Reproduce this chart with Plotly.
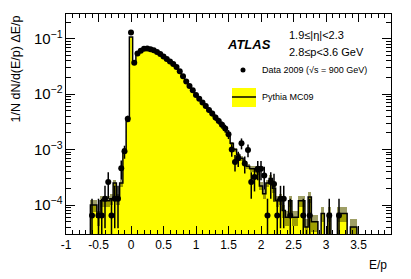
import numpy as np
import plotly.graph_objects as go

# ---- data ----
bin_width = 0.05
bin_centers = [round(-0.6 + 0.05 * i, 2) for i in range(83)]  # -0.60 ... 3.50

mc_values = [
    1.0e-4, 1.0e-4, 6e-5, 1.2e-4, 1.2e-4, 1.2e-4, 1.3e-4, 2.5e-4, 1.3e-4, 2.5e-4,  # -0.60..-0.15
    1.0e-3, 3.3e-3, 0.108,                                                          # -0.10..0.00
    0.036, 0.053, 0.060, 0.065, 0.066, 0.064, 0.061, 0.057, 0.052, 0.047,           # 0.05..0.50
    0.042, 0.038, 0.034, 0.030, 0.025, 0.021, 0.017, 0.0138, 0.0116, 0.0095,        # 0.55..1.00
    0.0082, 0.0070, 0.0060, 0.0051, 0.0044, 0.0037, 0.0032, 0.0027, 0.0023, 0.0019, # 1.05..1.50
    1.3e-3, 1.0e-3, 8e-4, 7e-4, 6e-4, 5e-4, 4.5e-4, 4.5e-4, 4e-4, 2.2e-4,          # 1.55..2.00
    1.6e-4, 2.5e-4, 3e-4, 2e-4, 1.2e-4, 1.3e-4, 8e-5, 6e-5, 1.2e-4, 6e-5,          # 2.05..2.50
    6e-5, 1.2e-4, 1.2e-4, 4e-5, 1.4e-4, 5e-5, 5e-5, 0, 7e-5, 0,                    # 2.55..3.00
    7e-5, 0, 0, 7e-5, 7e-5, 7e-5, 0, 4e-5, 4e-5, 0,                                # 3.05..3.50
]

data_values = [
    6.5e-5, None, 6.5e-5, 6.5e-5, 1.3e-4, 2.6e-4, 6.5e-5, 1.3e-4, 1.3e-4, 4.6e-4,  # -0.60..-0.15
    9.3e-4, 3.6e-3, 0.13,                                                           # -0.10..0.00
    0.037, 0.054, 0.061, 0.066, 0.067, 0.065, 0.062, 0.058, 0.053, 0.048,           # 0.05..0.50
    0.043, 0.039, 0.035, 0.031, 0.026, 0.021, 0.017, 0.0140, 0.0118, 0.0097,        # 0.55..1.00
    0.0083, 0.0071, 0.0061, 0.0052, 0.0045, 0.0038, 0.0033, 0.0028, 0.0024, 0.0019, # 1.05..1.50
    1.0e-3, 6e-4, 7e-4, 1.3e-3, 5.6e-4, 9.8e-4, 2.6e-4, 3.2e-4, 4.5e-4, 4.5e-4,    # 1.55..2.00
    3.4e-4, 6.5e-5, 2.6e-4, 2.4e-4, 6.5e-5, 1.3e-4, 1.3e-4, None, 6.5e-5, None,    # 2.05..2.50
    None, None, 6.5e-5, None, 6.5e-5, None, None, None, None, None,                # 2.55..3.00
    6.5e-5, None, None, 6.5e-5, None, None, None, None, None, None,                # 3.05..3.50
]

x_tick_vals = [-1, -0.5, 0, 0.5, 1, 1.5, 2, 2.5, 3, 3.5]
x_tick_text = ["-1", "-0.5", "0", "0.5", "1", "1.5", "2", "2.5", "3", "3.5"]
single_event = 6.5e-5     # normalised content of one data entry
single_mc_event = 6e-6    # normalised content of one MC entry

# ---- derived ----
xc = np.array(bin_centers)
mc = np.array(mc_values, dtype=float)
edges = np.append(xc - bin_width / 2, xc[-1] + bin_width / 2)
step_y = np.where(mc > 0, mc, 1e-8)
step_y = np.append(step_y, step_y[-1])
step_x = np.concatenate([[edges[0]], edges, [edges[-1]]])
step_y = np.concatenate([[1e-8], step_y, [1e-8]])

# MC statistical band (only visible in the tails)
mc_err = np.sqrt(mc * single_mc_event)
band_mask = (mc > 0) & (mc < 2e-3)
band_x = xc[band_mask]
band_lo = np.maximum((mc - mc_err)[band_mask], 1e-6)
band_hi = (mc + mc_err)[band_mask]

dx, dy, eplus, eminus = [], [], [], []
for c, v in zip(bin_centers, data_values):
    if v is None:
        continue
    n = v / single_event
    e = np.sqrt(n) * single_event
    dx.append(c)
    dy.append(v)
    eplus.append(e)
    eminus.append(v - max(v - e, 1e-7))

fig = go.Figure()
fig.add_trace(go.Bar(x=xc, y=np.where(mc > 0, mc, None), width=bin_width,
                     marker=dict(color="#ffff00", line=dict(width=0)), showlegend=False))
fig.add_trace(go.Bar(x=band_x, y=band_hi - band_lo, base=band_lo, width=bin_width,
                     marker=dict(color="rgba(95,95,0,0.6)", line=dict(width=0)), showlegend=False))
fig.add_trace(go.Scatter(x=step_x, y=step_y, mode="lines", line=dict(color="black", width=1.5, shape="hv"),
                         showlegend=False))
fig.add_trace(go.Scatter(x=dx, y=dy, mode="markers",
                         marker=dict(color="black", size=6),
                         error_y=dict(type="data", array=eplus, arrayminus=eminus, color="black",
                                      thickness=1.5, width=0),
                         showlegend=False))

L, R, T, B = 66, 20, 14, 45
W, H = 411, 279
pw, ph = W - L - R, H - T - B

def px(xp):
    return (xp - L) / pw

def py(yp):
    return (H - B - yp) / ph

font = "Liberation Sans, Arial, sans-serif"
fig.update_layout(
    width=W, height=H, margin=dict(l=L, r=R, t=T, b=B),
    paper_bgcolor="white", plot_bgcolor="white", bargap=0, barmode="overlay",
    font=dict(family=font, size=12, color="black"),
    xaxis=dict(range=[-1, 4], tickvals=x_tick_vals, ticktext=x_tick_text,
               ticks="inside", ticklen=8, tickwidth=1, tickcolor="black",
               minor=dict(ticks="inside", ticklen=4, dtick=0.1, tick0=0, tickcolor="black", showgrid=False),
               showline=True, linecolor="black", linewidth=1, mirror="ticks",
               showgrid=False, zeroline=False, tickfont=dict(size=12)),
    yaxis=dict(type="log", range=[np.log10(3.0e-5), np.log10(0.28)], dtick=1,
               exponentformat="power", ticks="inside", ticklen=9, tickwidth=1, tickcolor="black",
               minor=dict(ticks="inside", ticklen=5, tickcolor="black", showgrid=False),
               showline=True, linecolor="black", linewidth=1, mirror="ticks",
               showgrid=False, zeroline=False, tickfont=dict(size=12)),
)

ann = [
    dict(x=px(15), y=1.0, xref="paper", yref="paper", text="1/N dN/d(E/p) ΔE/p", textangle=-90,
         showarrow=False, xanchor="center", yanchor="top", font=dict(size=12.5)),
    dict(x=px(389), y=py(265), xref="paper", yref="paper", text="E/p", showarrow=False,
         xanchor="right", yanchor="middle", font=dict(size=12)),
    dict(x=px(225), y=py(45), xref="paper", yref="paper", text="<b><i>ATLAS</i></b>", showarrow=False,
         xanchor="left", yanchor="middle", font=dict(size=13)),
    dict(x=px(287), y=py(35), xref="paper", yref="paper", text="1.9≤|η|<2.3", showarrow=False,
         xanchor="left", yanchor="middle", font=dict(size=11)),
    dict(x=px(287), y=py(52), xref="paper", yref="paper", text="2.8≤p<3.6 GeV", showarrow=False,
         xanchor="left", yanchor="middle", font=dict(size=11)),
    dict(x=px(260), y=py(70), xref="paper", yref="paper", text="Data 2009 (√s = 900 GeV)", showarrow=False,
         xanchor="left", yanchor="middle", font=dict(size=9)),
    dict(x=px(260), y=py(97), xref="paper", yref="paper", text="Pythia MC09", showarrow=False,
         xanchor="left", yanchor="middle", font=dict(size=9)),
]
fig.update_layout(annotations=ann)
shapes = [
    dict(type="circle", xref="paper", yref="paper", x0=px(240.5), x1=px(245.5), y0=py(72.5), y1=py(67.5),
         fillcolor="black", line=dict(width=0)),
    dict(type="rect", xref="paper", yref="paper", x0=px(232), x1=px(256), y0=py(107), y1=py(88),
         fillcolor="#ffff00", line=dict(width=0)),
    dict(type="line", xref="paper", yref="paper", x0=px(232), x1=px(256), y0=py(97), y1=py(97),
         line=dict(color="black", width=1.5)),
]
fig.update_layout(shapes=shapes)
fig.write_html("out.html", config={"displayModeBar": False},
               post_script="document.body.style.margin='0';")
